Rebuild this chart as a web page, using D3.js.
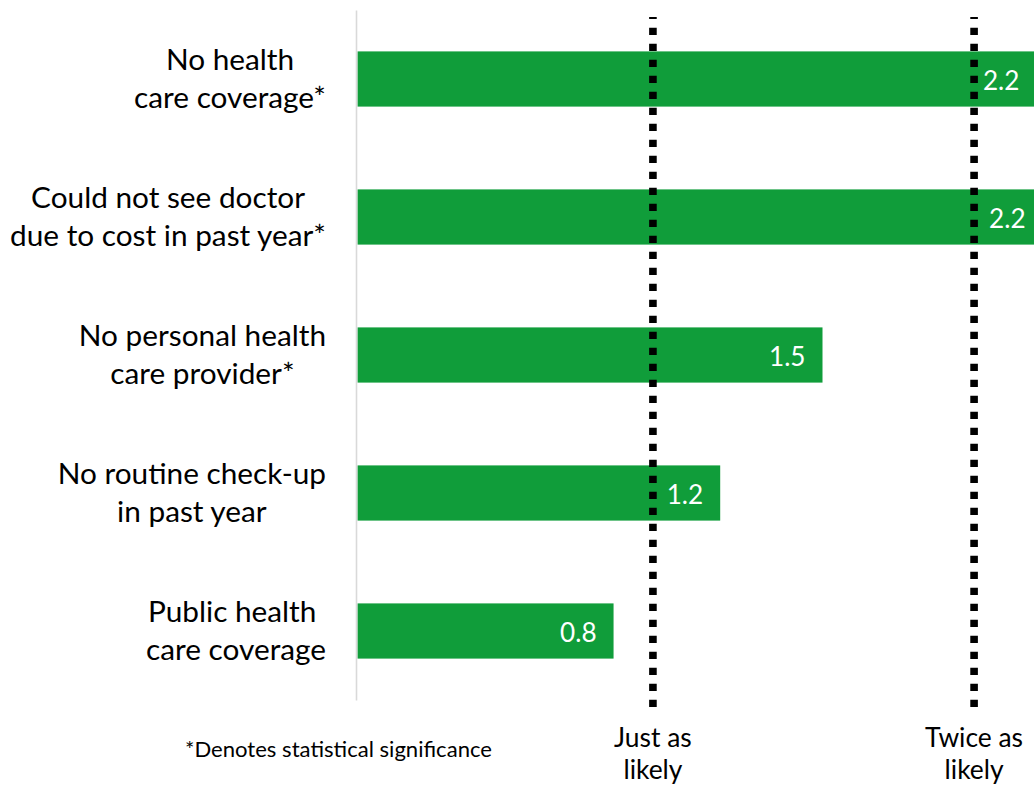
<!DOCTYPE html>
<html><head><meta charset="utf-8">
<script src="https://cdn.jsdelivr.net/npm/d3@7"></script>
<style>
body{margin:0;background:#fff}
svg{display:block}
text{font-family:Lato,"Open Sans",sans-serif;white-space:pre}
</style>
</head><body>
<svg id="chart" width="1034" height="789"></svg>
<script>
// ---- data ----
const categories = [
  "No health care coverage*",
  "Could not see doctor due to cost in past year*",
  "No personal health care provider*",
  "No routine check-up in past year",
  "Public health care coverage"
];
const categoryLines = [
  ["No health", "care coverage*"],
  ["Could not see doctor", "due to cost in past year*"],
  ["No personal health", "care provider*"],
  ["No routine check-up", "in past year"],
  ["Public health ", "care coverage"]
];
const values = [2.19, 2.21, 1.50, 1.17, 0.826];
const refValues = [0.953, 1.989];
const refLabels = [["Just as", "likely"], ["Twice as", "likely"]];
const footnote = "*Denotes statistical significance";

// ---- drawing ----
const svg = d3.select("#chart");
const W = 1034, H = 789;
const barColor = "#109D3A";

const x = d3.scaleLinear().domain([0, 2.2]).range([357.5, 1039.5]);
const y = d3.scaleBand().domain(categories).range([10, 700]).paddingInner(0.6).paddingOuter(0.3);
const bw = y.bandwidth();

function fitSize(sel, refNode, target) {
  sel.style("font-size", "100px");
  const w = refNode.getComputedTextLength();
  const s = 100 * target / w;
  sel.style("font-size", s + "px");
  return s;
}

// bars
svg.append("g").selectAll("rect").data(categories).join("rect")
  .attr("x", x(0))
  .attr("y", d => y(d))
  .attr("width", (d, i) => x(values[i]) - x(0))
  .attr("height", bw)
  .attr("fill", barColor);

// category axis line
const axis = svg.append("g").attr("transform", `translate(${x(0) - 1.5},0)`)
  .call(d3.axisLeft(y).tickSize(0).tickSizeOuter(0).tickFormat(""));
axis.select(".domain").attr("stroke", "#d9d9d9").attr("stroke-width", 1.6);

// reference dotted lines
svg.append("g").selectAll("line").data(refValues).join("line")
  .attr("x1", d => x(d)).attr("x2", d => x(d))
  .attr("y1", 17).attr("y2", 707.5)
  .attr("stroke", "#000")
  .attr("stroke-width", 7.6)
  .attr("stroke-dasharray", "7.4 8.6")
  .attr("stroke-dashoffset", 5.3);

// value labels
const vl = svg.append("g").selectAll("text").data(categories).join("text")
  .attr("x", (d, i) => x(values[i]) - 17)
  .attr("y", d => y(d) + bw / 2 + 11)
  .attr("text-anchor", "end")
  .attr("fill", "#fff")
  .text((d, i) => d3.format(".1f")(values[i]));
fitSize(vl, vl.nodes()[2], 36.5);

// category labels (centred block, right-aligned at 326)
const catG = svg.append("g");
const catTexts = [];
categories.forEach((c, i) => {
  const g = catG.append("g");
  categoryLines[i].forEach((ln, j) => {
    const t = g.append("text")
      .attr("y", y(c) + bw / 2 + (j === 0 ? -9.5 : 29))
      .attr("text-anchor", "middle")
      .attr("fill", "#000")
      .text(ln);
    catTexts.push(t.node());
  });
});
const allCat = catG.selectAll("text");
fitSize(allCat, catTexts[3], 316);
catG.selectAll("g").each(function () {
  const ts = d3.select(this).selectAll("text");
  let maxW = 0;
  ts.each(function () { maxW = Math.max(maxW, this.getComputedTextLength()); });
  ts.attr("x", 326 - maxW / 2);
});

// reference line labels
const rl = svg.append("g");
refValues.forEach((r, i) => {
  refLabels[i].forEach((ln, j) => {
    rl.append("text")
      .attr("x", x(r))
      .attr("y", j === 0 ? 747 : 779)
      .attr("text-anchor", "middle")
      .attr("fill", "#000")
      .text(ln);
  });
});
fitSize(rl.selectAll("text"), rl.selectAll("text").nodes()[2], 98);

// footnote
const fn = svg.append("text")
  .attr("x", 338.5).attr("y", 757)
  .attr("text-anchor", "middle")
  .attr("fill", "#000")
  .text(footnote);
fitSize(fn, fn.node(), 307);
</script>
</body></html>
